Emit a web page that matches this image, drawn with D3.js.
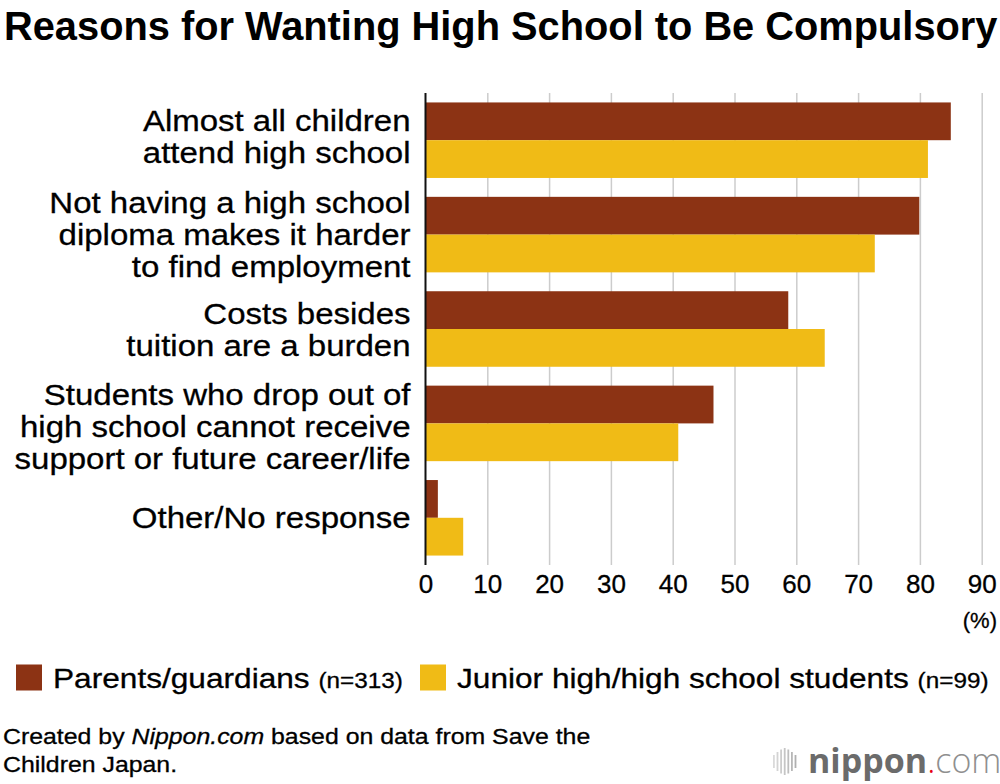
<!DOCTYPE html>
<html>
<head>
<meta charset="utf-8">
<script src="https://cdn.jsdelivr.net/npm/d3@7"></script>
<style>
  html, body { margin: 0; padding: 0; background: #fff; }
  svg { display: block; font-family: "Liberation Sans", Arial, Helvetica, sans-serif; }
</style>
</head>
<body>
<div id="chart"></div>
<script>
// data
const categories = [
    "Almost all children\nattend high school",
    "Not having a high school\ndiploma makes it harder\nto find employment",
    "Costs besides\ntuition are a burden",
    "Students who drop out of\nhigh school cannot receive\nsupport or future career/life",
    "Other/No response"
]
const parents  = [85.0, 79.9, 58.7, 46.6, 2.0]
const students = [81.3, 72.7, 64.6, 40.9, 6.1]
const seriesNames = ["Parents/guardians", "Junior high/high school students"]
const seriesN = ["(n=313)", "(n=99)"]
const seriesColors = ["#8c3314", "#f0bb16"]
const xTicks = [0, 10, 20, 30, 40, 50, 60, 70, 80, 90]

const width = 1000, height = 784
const plot = {left: 425.5, right: 981.7, top: 93, bottom: 565}
// small per-label vertical nudges, the labels in the original are not exactly centred
const labelNudge = [-4, 0, 0, 3, 0]

const svg = d3.select("#chart").append("svg")
    .attr("width", width)
    .attr("height", height)

// stretched text, the reference font is wider than Helvetica/Arial
function wideText(sel, x, y, k) {
    return sel.append("text")
        .attr("transform", `translate(${x},${y}) scale(${k},1)`)
        .attr("stroke", "#000")
        .attr("stroke-width", 0.3)
}

// title
svg.append("text")
    .attr("x", 4)
    .attr("y", 39.5)
    .attr("font-size", 39.8)
    .attr("font-weight", "bold")
    .attr("fill", "#000")
    .text("Reasons for Wanting High School to Be Compulsory")

const x = d3.scaleLinear()
    .domain([0, 90])
    .range([plot.left, plot.right])

const y = d3.scaleBand()
    .domain(categories)
    .range([plot.top, plot.bottom])
    .paddingInner(0.2)
    .paddingOuter(0.1)

const ySub = d3.scaleBand()
    .domain([0, 1])
    .range([0, y.bandwidth()])

// gridlines
svg.append("g")
    .attr("transform", `translate(0,${plot.bottom})`)
    .call(d3.axisBottom(x).tickValues(xTicks.filter(d => d > 0)).tickSize(-(plot.bottom - plot.top)).tickFormat(""))
    .call(g => g.select(".domain").remove())
    .call(g => g.selectAll(".tick line").attr("stroke", "#cccccc").attr("stroke-width", 1.5))

// bars
const rows = categories.map((c, i) => ({cat: c, values: [parents[i], students[i]]}))

const groups = svg.append("g")
    .selectAll("g")
    .data(rows)
    .enter()
    .append("g")
    .attr("transform", d => `translate(0,${y(d.cat)})`)

groups.selectAll("rect")
    .data(d => d.values.map((v, s) => ({v: v, s: s})))
    .enter()
    .append("rect")
    .attr("x", x(0))
    .attr("y", d => ySub(d.s))
    .attr("width", d => x(d.v) - x(0))
    .attr("height", ySub.bandwidth())
    .attr("fill", d => seriesColors[d.s])

// zero axis line
svg.append("line")
    .attr("x1", x(0)).attr("x2", x(0))
    .attr("y1", plot.top).attr("y2", plot.bottom)
    .attr("stroke", "#111")
    .attr("stroke-width", 2)

// tick labels
svg.append("g")
    .attr("transform", `translate(0,${plot.bottom})`)
    .call(d3.axisBottom(x).tickValues(xTicks).tickSize(0).tickPadding(9.4))
    .call(g => g.select(".domain").remove())
    .call(g => g.selectAll(".tick text")
        .attr("font-size", 26)
        .attr("font-family", "Liberation Sans, Arial, sans-serif")
        .attr("fill", "#000")
        .attr("stroke", "#000")
        .attr("stroke-width", 0.3))

svg.append("text")
    .attr("x", 997)
    .attr("y", 628)
    .attr("text-anchor", "end")
    .attr("font-size", 22)
    .attr("fill", "#000")
    .attr("stroke", "#000")
    .attr("stroke-width", 0.3)
    .text("(%)")

// category labels
const lineH = 32
categories.forEach((c, ci) => {
    const lines = c.split("\n")
    const mid = y(c) + y.bandwidth() / 2 + labelNudge[ci]
    lines.forEach((line, i) => {
        wideText(svg, 410.5, mid + (i - (lines.length - 1) / 2) * lineH + 10.5, 1.1)
            .attr("text-anchor", "end")
            .attr("font-size", 30)
            .attr("fill", "#000")
            .text(line)
    })
})

// legend
const legendX = [16, 420]
seriesNames.forEach((name, i) => {
    svg.append("rect")
        .attr("x", legendX[i])
        .attr("y", 664.5)
        .attr("width", 26)
        .attr("height", 26)
        .attr("fill", seriesColors[i])
    const t = wideText(svg, legendX[i] + 37, 688, 1.13)
        .attr("font-size", 28)
        .attr("fill", "#000")
    t.append("tspan").text(name + " ")
    t.append("tspan").attr("font-size", 21.5).text(seriesN[i])
})

// source note
const note1 = wideText(svg, 3, 743.5, 1.13)
    .attr("font-size", 22)
    .attr("fill", "#000")
note1.append("tspan").text("Created by ")
note1.append("tspan").attr("font-style", "italic").text("Nippon.com")
note1.append("tspan").text(" based on data from Save the")

wideText(svg, 3, 771.5, 1.13)
    .attr("font-size", 22)
    .attr("fill", "#000")
    .text("Children Japan.")

// nippon.com logo
const logo = svg.append("g")
const barH = [13, 19, 24, 27, 24, 19, 13]
barH.forEach((h, i) => {
    logo.append("rect")
        .attr("x", 773 + i * 3.6)
        .attr("y", 761.5 - h / 2)
        .attr("width", 1.8)
        .attr("height", h)
        .attr("fill", d3.interpolateRgb("#dadada", "#b0b0b0")(i / 6))
})
const logoText = logo.append("text")
    .attr("x", 808)
    .attr("y", 773)
    .attr("font-family", "Open Sans, sans-serif")
    .attr("font-size", 34)
logoText.append("tspan").attr("font-weight", 700).attr("fill", "#6b6b6b").text("nippon")
logoText.append("tspan").attr("font-weight", 300).attr("fill", "#e60012").text(".")
logoText.append("tspan").attr("font-weight", 300).attr("fill", "#8f8f8f").text("com")
</script>
</body>
</html>
